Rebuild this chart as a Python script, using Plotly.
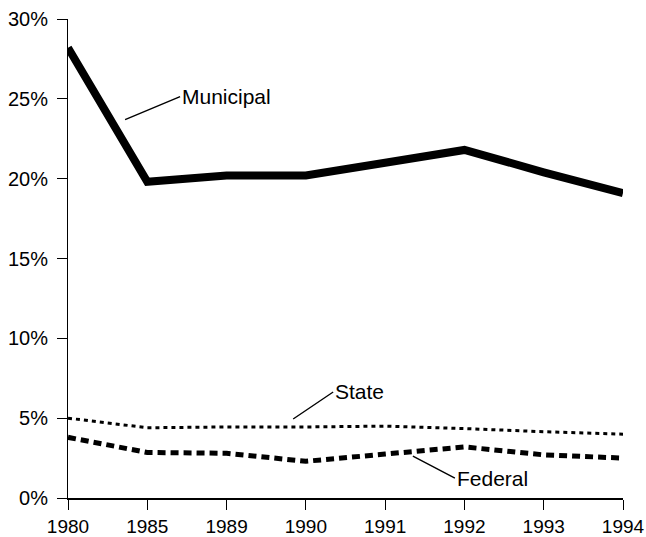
import plotly.graph_objects as go

years = ["1980", "1985", "1989", "1990", "1991", "1992", "1993", "1994"]
municipal = [28.2, 19.8, 20.2, 20.2, 21.0, 21.8, 20.4, 19.1]
state = [5.0, 4.4, 4.45, 4.45, 4.5, 4.35, 4.15, 4.0]
federal = [3.8, 2.85, 2.8, 2.3, 2.75, 3.2, 2.7, 2.5]

yticks = [0, 5, 10, 15, 20, 25, 30]
xpos = list(range(len(years)))

fig = go.Figure()

fig.add_trace(go.Scatter(x=xpos, y=municipal, mode="lines",
                         line=dict(color="black", width=8)))
fig.add_trace(go.Scatter(x=xpos, y=state, mode="lines",
                         line=dict(color="black", width=3, dash="4px,4px")))
fig.add_trace(go.Scatter(x=xpos, y=federal, mode="lines",
                         line=dict(color="black", width=5, dash="8px,5px")))

# labels with leader lines
labels = [
    ("Municipal", 0.72, 23.7, 55, -23),
    ("State", 2.84, 4.95, 40, -27),
    ("Federal", 4.35, 2.63, 42, 22),
]
for txt, x, y, ax, ay in labels:
    fig.add_annotation(x=x, y=y, ax=ax, ay=ay, text=txt,
                       showarrow=True, arrowhead=0, arrowwidth=1.4,
                       arrowcolor="black", xanchor="left",
                       font=dict(size=21, color="black"))

fig.update_xaxes(range=[0, 7], tickvals=xpos, ticktext=years,
                 showgrid=False, zeroline=False, automargin=False,
                 showline=True, linecolor="black", linewidth=1.5,
                 ticks="outside", ticklen=10, tickcolor="black",
                 ticklabelstandoff=0,
                 tickfont=dict(size=19, color="black"))
fig.update_yaxes(range=[0, 30], tickvals=yticks,
                 ticktext=[f"{v}%" for v in yticks],
                 showgrid=False, zeroline=False, automargin=False,
                 showline=True, linecolor="black", linewidth=1,
                 ticks="outside", ticklen=10, tickcolor="black",
                 ticklabelstandoff=5,
                 tickfont=dict(size=20, color="black"))

fig.update_layout(width=646, height=537,
                  margin=dict(l=68, r=23, t=19, b=39, autoexpand=False),
                  showlegend=False,
                  plot_bgcolor="white", paper_bgcolor="white",
                  font=dict(family="Arial, Liberation Sans, sans-serif"))

# drop the browser's default body margin so the figure sits at 0,0
fig.write_html("out.html",
               config={"displayModeBar": False},
               post_script="document.body.style.margin='0';"
                           "document.body.style.overflow='hidden';")
